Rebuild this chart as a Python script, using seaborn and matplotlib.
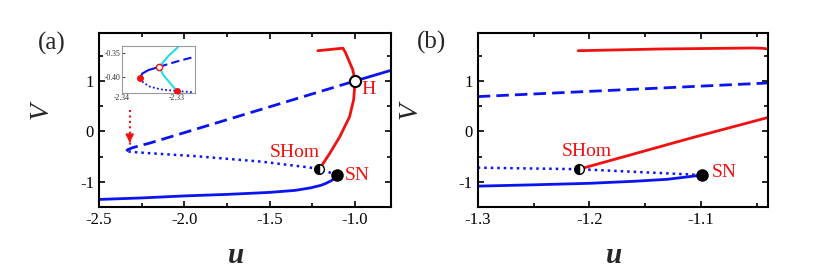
import matplotlib
matplotlib.use("Agg")
import matplotlib.pyplot as plt
import seaborn as sns
from matplotlib.ticker import MultipleLocator

# ---- panel (a) data ----
lower_a_u = [-2.5, -2.25, -2.0, -1.75, -1.5, -1.35, -1.26, -1.2, -1.17, -1.14, -1.12, -1.106]
lower_a_V = [-1.35, -1.32, -1.28, -1.25, -1.21, -1.17, -1.12, -1.07, -1.03, -0.98, -0.93, -0.87]
dot_a_u = [-1.106, -1.16, -1.213, -1.28, -1.55, -1.94, -2.15, -2.28, -2.325, -2.34]
dot_a_V = [-0.87, -0.80, -0.745, -0.71, -0.60, -0.49, -0.445, -0.415, -0.40, -0.39]
dash_a_u = [-2.34, -2.33, -2.3, -2.2, -1.0]
dash_a_V = [-0.39, -0.36, -0.32, -0.23, 1.0]
upper_a_u = [-1.0, -0.79]
upper_a_V = [1.0, 1.21]
red_a_u = [-1.218, -1.071, -1.057, -1.042, -1.013, -1.0, -1.008, -1.032, -1.09, -1.149, -1.209]
red_a_V = [1.60, 1.65, 1.57, 1.45, 1.22, 1.0, 0.63, 0.29, -0.11, -0.44, -0.75]
arrow_u = [-2.32, -2.32]
arrow_V = [0.42, -0.28]

# ---- inset data ----
in_solid_u = [-2.3367, -2.3363, -2.3352, -2.3332]
in_solid_V = [-0.401, -0.392, -0.385, -0.378]
in_dash_u = [-2.3332, -2.330, -2.3267]
in_dash_V = [-0.378, -0.367, -0.357]
in_dot_u = [-2.3367, -2.3362, -2.3350, -2.3330, -2.3300, -2.3270]
in_dot_V = [-0.401, -0.410, -0.419, -0.425, -0.4285, -0.431]
in_cyan_u = [-2.3298, -2.3315, -2.3332, -2.3325, -2.3313, -2.3300]
in_cyan_V = [-0.337, -0.355, -0.378, -0.395, -0.411, -0.4285]

# ---- panel (b) data ----
lower_b_u = [-1.3, -1.25, -1.2, -1.16, -1.13, -1.115, -1.099]
lower_b_V = [-1.086, -1.06, -1.03, -0.99, -0.95, -0.91, -0.866]
dot_b_u = [-1.3, -1.209, -1.099]
dot_b_V = [-0.72, -0.75, -0.866]
dash_b_u = [-1.3, -1.04]
dash_b_V = [0.69, 0.96]
redlow_b_u = [-1.206, -1.167, -1.107, -1.041]
redlow_b_V = [-0.73, -0.49, -0.12, 0.27]
redup_b_u = [-1.21, -1.137, -1.053, -1.045, -1.040]
redup_b_V = [1.60, 1.634, 1.654, 1.648, 1.635]

BLUE = "#0a14f0"
RED = "#f01010"
CYAN = "#22dce8"
DASH = (0, (4.5, 2.2))
DOT = (0, (1, 1.6))

sns.set_style("ticks")
plt.rcParams["font.family"] = ["Liberation Serif", "DejaVu Serif"]
plt.rcParams["mathtext.fontset"] = "stix"

fig = plt.figure(figsize=(8.2, 2.68), dpi=100)
ax_a = fig.add_axes([0.1207, 0.2276, 0.356, 0.649])
ax_b = fig.add_axes([0.5826, 0.2276, 0.354, 0.649])


def line(ax, u, v, color, ls="-", lw=2.0):
    sns.lineplot(x=u, y=v, ax=ax, color=color, linestyle=ls, lw=lw,
                 sort=False, estimator=None, legend=False)


def style_axes(ax, major, minor):
    ax.xaxis.set_major_locator(MultipleLocator(major))
    ax.xaxis.set_minor_locator(MultipleLocator(minor))
    ax.yaxis.set_major_locator(MultipleLocator(1))
    ax.yaxis.set_minor_locator(MultipleLocator(0.5))
    ax.tick_params(which="both", direction="in", top=True, right=True,
                   labelsize=12, width=1.2, colors="black")
    ax.tick_params(which="major", length=4)
    ax.tick_params(which="minor", length=3)
    for s in ax.spines.values():
        s.set_linewidth(1.5)
        s.set_color("black")
    ax.set_xlabel("u", fontsize=21, fontstyle="italic", fontweight="bold")
    ax.set_ylabel("V", fontsize=20, fontstyle="italic")


def tick_fmt(ax, fmt):
    ax.set_xticklabels([fmt.format(t).replace("-", "-") for t in ax.get_xticks()])


# ---------- panel (a) ----------
line(ax_a, lower_a_u, lower_a_V, BLUE)
line(ax_a, dot_a_u, dot_a_V, BLUE, DOT, 1.8)
line(ax_a, dash_a_u, dash_a_V, BLUE, DASH)
line(ax_a, upper_a_u, upper_a_V, BLUE)
line(ax_a, red_a_u, red_a_V, RED)
line(ax_a, arrow_u, arrow_V, RED, DOT, 1.5)
ax_a.annotate("", xy=(arrow_u[1], arrow_V[1]), xytext=(arrow_u[1], arrow_V[1] + 0.15),
              arrowprops=dict(arrowstyle="-|>", color=RED, lw=1.2, mutation_scale=12))

ax_a.plot([dot_a_u[2]], [dot_a_V[2]], "o", ms=7, mfc="black", mfcalt="white",
          fillstyle="left", mec="black", mew=1, zorder=5)
ax_a.plot([lower_a_u[-1]], [lower_a_V[-1]], "o", ms=8, color="black", zorder=5)
ax_a.plot([upper_a_u[0]], [upper_a_V[0]], "o", ms=8, mfc="white", mec="black", mew=1.5, zorder=5)

ax_a.text(-0.962, 0.83, "H", color=RED, fontsize=14, ha="left", va="center")
ax_a.text(-1.354, -0.42, "SHom", color=RED, fontsize=14, ha="center", va="center")
ax_a.text(-1.061, -0.87, "SN", color=RED, fontsize=14, ha="left", va="center")

ax_a.set_xlim(-2.5, -0.79)
ax_a.set_ylim(-1.5, 1.95)
style_axes(ax_a, 0.5, 0.25)
ax_a.set_xticks([-2.5, -2.0, -1.5, -1.0])
ax_a.set_xticklabels(["-2.5", "-2.0", "-1.5", "-1.0"])
ax_a.set_yticks([-1, 0, 1])
ax_a.set_yticklabels(["-1", "0", "1"])
ax_a.xaxis.set_label_coords(0.47, -0.2)
ax_a.yaxis.set_label_coords(-0.155, 0.557)

# ---------- inset ----------
ins = fig.add_axes([0.1488, 0.654, 0.089, 0.174])
line(ins, in_solid_u, in_solid_V, BLUE, "-", 1.5)
line(ins, in_dash_u, in_dash_V, BLUE, (0, (4, 2)), 1.5)
line(ins, in_dot_u, in_dot_V, BLUE, (0, (1, 1.3)), 1.3)
line(ins, in_cyan_u, in_cyan_V, CYAN, "-", 1.5)
ins.plot([in_solid_u[0]], [in_solid_V[0]], "o", ms=4, color=RED, zorder=5)
ins.plot([in_solid_u[-1]], [in_solid_V[-1]], "o", ms=4.5, mfc="white", mec=RED, mew=1, zorder=5)
ins.plot([in_dot_u[4]], [in_dot_V[4]], "o", ms=4, color=RED, zorder=5)
ins.set_xlim(-2.34, -2.3267)
ins.set_ylim(-0.432, -0.335)
ins.set_xticks([-2.34, -2.33])
ins.set_xticklabels(["-2.34", "-2.33"])
ins.set_yticks([-0.40, -0.35])
ins.set_yticklabels(["-0.40", "-0.35"])
ins.tick_params(direction="in", labelsize=5.5, length=2, width=0.6, pad=1)
ins.set_xlabel("")
ins.set_ylabel("")
for s in ins.spines.values():
    s.set_linewidth(0.8)
    s.set_color("#999999")

# ---------- panel (b) ----------
line(ax_b, lower_b_u, lower_b_V, BLUE)
line(ax_b, dot_b_u, dot_b_V, BLUE, DOT, 1.8)
line(ax_b, dash_b_u, dash_b_V, BLUE, DASH)
line(ax_b, redlow_b_u, redlow_b_V, RED)
line(ax_b, redup_b_u, redup_b_V, RED)
ax_b.plot([dot_b_u[1]], [dot_b_V[1]], "o", ms=7, mfc="black", mfcalt="white",
          fillstyle="left", mec="black", mew=1, zorder=5)
ax_b.plot([lower_b_u[-1]], [lower_b_V[-1]], "o", ms=8, color="black", zorder=5)
ax_b.text(-1.202, -0.40, "SHom", color=RED, fontsize=14, ha="center", va="center")
ax_b.text(-1.0905, -0.82, "SN", color=RED, fontsize=14, ha="left", va="center")

ax_b.set_xlim(-1.3, -1.04)
ax_b.set_ylim(-1.5, 1.95)
style_axes(ax_b, 0.1, 0.05)
ax_b.set_xticks([-1.3, -1.2, -1.1])
ax_b.set_xticklabels(["-1.3", "-1.2", "-1.1"])
ax_b.set_yticks([-1, 0, 1])
ax_b.set_yticklabels(["-1", "0", "1"])
ax_b.xaxis.set_label_coords(0.47, -0.2)
ax_b.yaxis.set_label_coords(-0.19, 0.557)

fig.text(0.046, 0.838, "(a)", fontsize=18, ha="left", va="center")
fig.text(0.508, 0.843, "(b)", fontsize=18, ha="left", va="center")

fig.savefig("out.png", dpi=100)
